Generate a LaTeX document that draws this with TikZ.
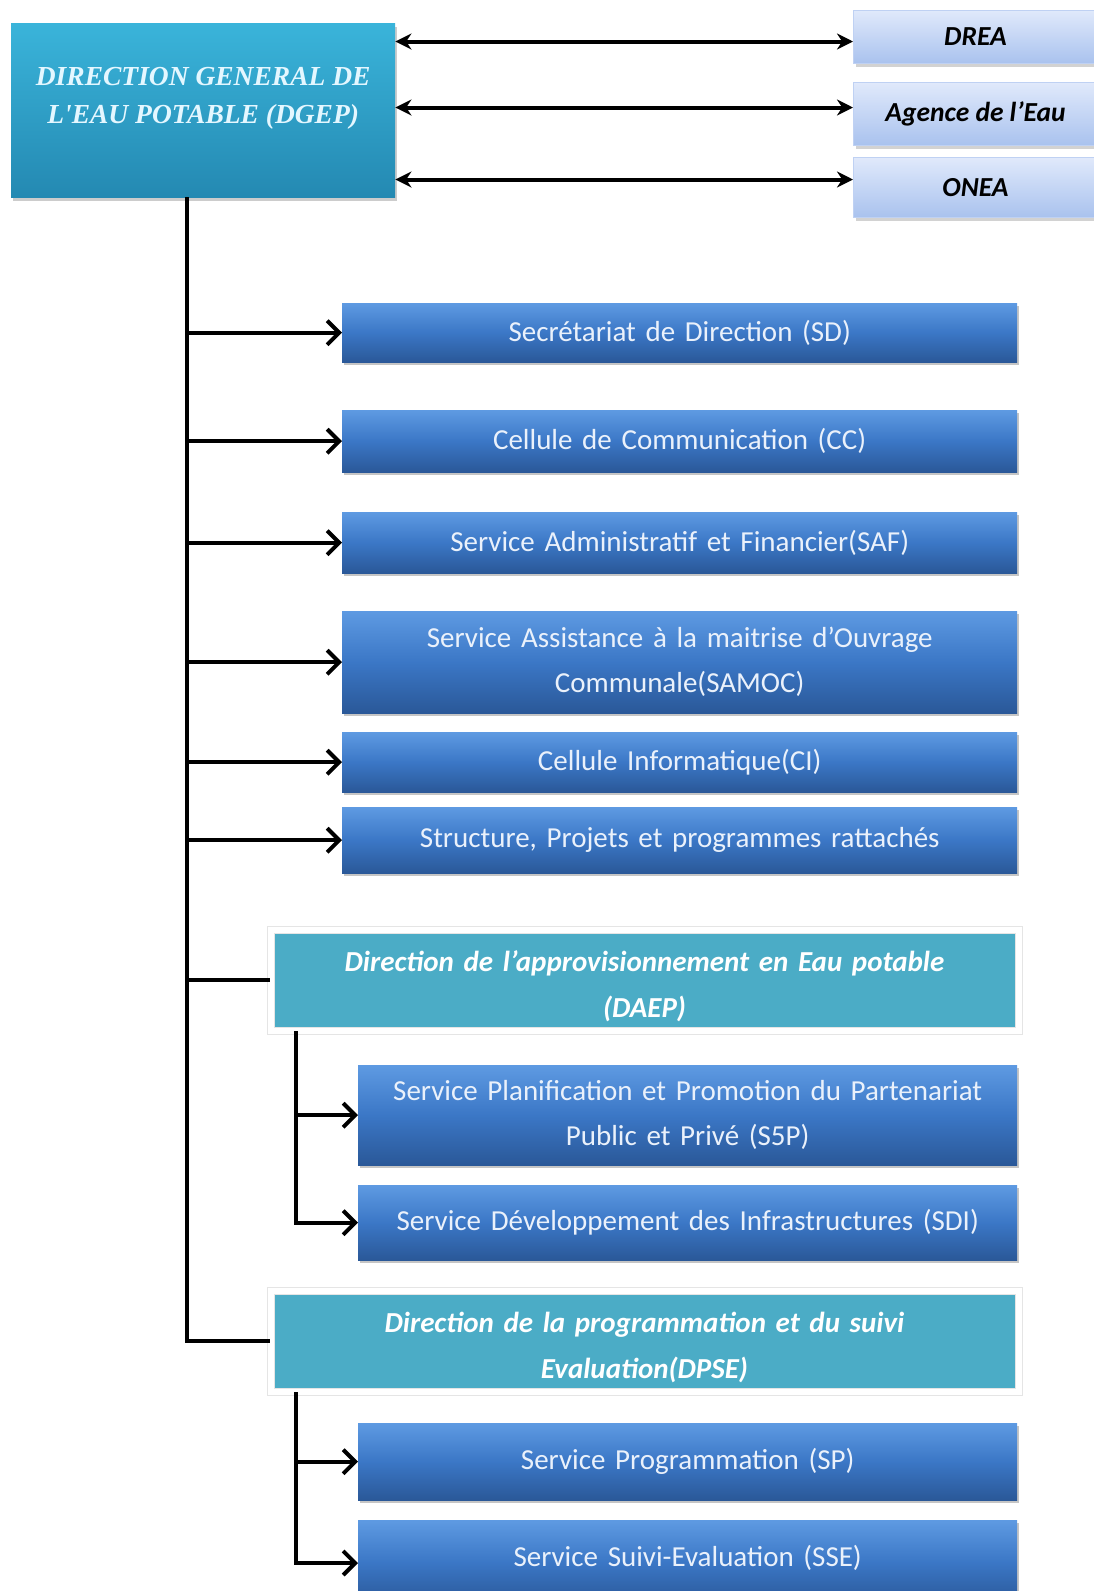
\documentclass[tikz,border=0pt]{standalone}
\usepackage{fontspec}
\setmainfont{Carlito}
\newfontfamily\timesf{Liberation Serif}
\usetikzlibrary{shadows,arrows.meta}
\definecolor{svcTop}{HTML}{5E9AE2}
\definecolor{svcMid}{HTML}{3B77C6}
\definecolor{svcBot}{HTML}{2A5898}
\definecolor{dgTop}{HTML}{3AB4DA}
\definecolor{dgBot}{HTML}{2489B2}
\definecolor{extTop}{HTML}{E0E9FB}
\definecolor{extBot}{HTML}{A9C2EE}
\definecolor{extEdge}{HTML}{BFD1F3}
\definecolor{dirFill}{HTML}{4BACC6}
\definecolor{svcText}{HTML}{EAF1FB}
\definecolor{dgText}{HTML}{E4F7FF}
\begin{document}
\begin{tikzpicture}[x=1pt,y=-1pt,
  svc/.style={anchor=north west, minimum width=675pt, inner sep=0pt, align=center,
    text width=650pt, top color=svcTop, bottom color=svcBot, middle color=svcMid,
    text=svcText, font=\fontsize{29}{45}\selectfont,
    drop shadow={shadow xshift=2pt, shadow yshift=-3pt, opacity=0.45}},
  subsvc/.style={svc, minimum width=659pt, text width=640pt},
  ext/.style={anchor=north west, minimum width=244pt, inner sep=0pt, align=center,
    top color=extTop, bottom color=extBot, draw=extEdge, line width=1pt,
    font=\fontsize{27.5}{30}\selectfont\bfseries\itshape, text=black,
    drop shadow={shadow xshift=2pt, shadow yshift=-3pt, opacity=0.35}},
  dirbox/.style={anchor=north west, minimum width=748pt, inner sep=0pt, align=center,
    text width=720pt, fill=dirFill, draw=black!10, line width=1pt, double=white,
    double distance=6pt, text=white,
    font=\fontsize{29}{46}\selectfont\bfseries\itshape,
    drop shadow={shadow xshift=2pt, shadow yshift=-4pt, opacity=0.3}},
  arr/.style={line width=4pt, -{Straight Barb[length=12pt,width=24pt,line width=4pt]}},
  dbl/.style={line width=4pt, {Stealth[length=16pt,width=16pt]}-{Stealth[length=16pt,width=16pt]}},
  trunk/.style={line width=4.5pt}]
\useasboundingbox (0,0) rectangle (1094,1591);
\fill[white] (0,0) rectangle (1094,1591);

% top box
\node[anchor=north west, minimum width=384pt, minimum height=174pt, inner sep=0pt,
  top color=dgTop, bottom color=dgBot, align=center, text=dgText,
  font=\timesf\fontsize{27.5}{38}\selectfont\bfseries\itshape,
  drop shadow={shadow xshift=2pt, shadow yshift=-4pt, opacity=0.4}]
  (dgep) at (11,23) {DIRECTION GENERAL DE\\L'EAU POTABLE (DGEP)\\[-8pt]\mbox{}};

% external partners
\node[ext, minimum height=53pt] (drea) at (853,10) {DREA};
\node[ext, minimum height=63pt] (agence) at (853,82) {Agence de l’Eau};
\node[ext, minimum height=60pt] (onea) at (853,157) {ONEA};

\draw[dbl] ([yshift=-4.5pt]drea.west -| dgep.east) -- ([yshift=-4.5pt]drea.west);
\draw[dbl] ([yshift=6.5pt]agence.west -| dgep.east) -- ([yshift=6.5pt]agence.west);
\draw[dbl] ([yshift=8pt]onea.west -| dgep.east) -- ([yshift=8pt]onea.west);

% services
\node[svc, minimum height=59pt] (sd) at (342,303) {Secrétariat de Direction (SD)};
\node[svc, minimum height=62pt] (cc) at (342,410) {Cellule de Communication (CC)};
\node[svc, minimum height=61pt] (saf) at (342,512) {Service Administratif et Financier(SAF)};
\node[svc, minimum height=102pt] (samoc) at (342,611) {Service Assistance à la maitrise d’Ouvrage\\Communale(SAMOC)};
\node[svc, minimum height=60pt] (ci) at (342,732) {Cellule Informatique(CI)};
\node[svc, minimum height=66pt] (spr) at (342,807) {Structure, Projets et programmes rattachés};

% directions
\node[dirbox, minimum height=101pt] (daep) at (270,929) {\rule{0pt}{33pt}Direction de l’approvisionnement en Eau potable\\(DAEP)};
\node[dirbox, minimum height=101pt] (dpse) at (270,1290) {\rule{0pt}{33pt}Direction de la programmation et du suivi\\Evaluation(DPSE)};

% sub services
\node[subsvc, minimum height=100pt] (s5p) at (358,1065) {Service Planification et Promotion du Partenariat\\Public et Privé (S5P)};
\node[subsvc, minimum height=75pt] (sdi) at (358,1185) {Service Développement des Infrastructures (SDI)};
\node[subsvc, minimum height=77pt] (sp) at (358,1423) {\raisebox{4pt}{Service Programmation (SP)}};
\node[subsvc, minimum height=84pt] (sse) at (358,1520) {\raisebox{12pt}{Service Suivi-Evaluation (SSE)}};

% main trunk
\coordinate (tx) at (187,0);
\draw[trunk] (dgep.south -| tx) -- (tx |- dpse.west) -- (dpse.west);
\draw[trunk] (tx |- daep.west) -- (daep.west);
\foreach \n in {sd,cc,saf,samoc,ci,spr}
  \draw[arr] (tx |- \n.west) -- (\n.west);

% sub trunks
\coordinate (ux) at (296,0);
\draw[trunk] (daep.south -| ux) -- (ux |- sdi.west);
\draw[arr] (ux |- s5p.west) -- (s5p.west);
\draw[arr] ([xshift=-2pt]ux |- sdi.west) -- (sdi.west);
\draw[trunk] (dpse.south -| ux) -- (ux |- 0,1563);
\draw[arr] (ux |- sp.west) -- (sp.west);
\draw[arr] ([xshift=-2pt]ux |- 0,1563) -- (sse.west |- 0,1563);
\end{tikzpicture}
\end{document}
